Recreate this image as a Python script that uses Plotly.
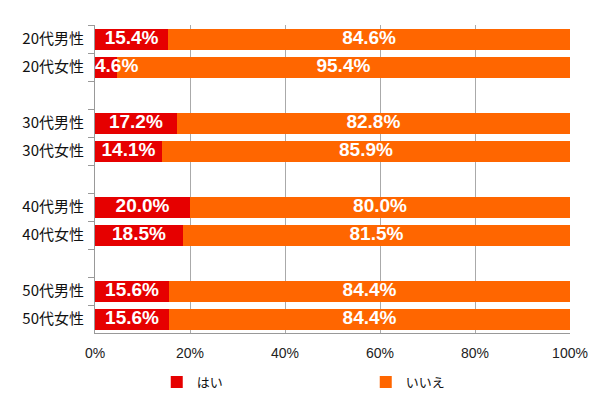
import plotly.graph_objects as go

categories = ["20代男性", "20代女性", " ", "30代男性", "30代女性", "  ",
              "40代男性", "40代女性", "   ", "50代男性", "50代女性"]
bar_categories = ["20代男性", "20代女性", "30代男性", "30代女性",
                  "40代男性", "40代女性", "50代男性", "50代女性"]
hai = [15.4, 4.6, 17.2, 14.1, 20.0, 18.5, 15.6, 15.6]
iie = [84.6, 95.4, 82.8, 85.9, 80.0, 81.5, 84.4, 84.4]
x_ticks = [0, 20, 40, 60, 80, 100]
x_tick_labels = [f"{v}%" for v in x_ticks]

RED = "#E60000"
ORANGE = "#FF6600"
LABEL_FONT = dict(family="Liberation Sans, Arial", size=19, color="white", weight="bold")

fig = go.Figure()
fig.add_trace(go.Bar(y=bar_categories, x=hai, orientation="h", name="はい",
                     marker=dict(color=RED, line=dict(width=0))))
fig.add_trace(go.Bar(y=bar_categories, x=iie, orientation="h", name="いいえ",
                     marker=dict(color=ORANGE, line=dict(width=0))))

# data labels
hai_x = [v / 2 if v >= 10 else 0 for v in hai]
hai_pos = ["middle center" if v >= 10 else "middle right" for v in hai]
fig.add_trace(go.Scatter(y=bar_categories, x=hai_x, mode="text",
                         text=[f"{v:.1f}%" for v in hai], textposition=hai_pos,
                         textfont=LABEL_FONT, showlegend=False, hoverinfo="skip",
                         cliponaxis=False))
iie_x = [h + v / 2 for h, v in zip(hai, iie)]
fig.add_trace(go.Scatter(y=bar_categories, x=iie_x, mode="text",
                         text=[f"{v:.1f}%" for v in iie], textposition="middle center",
                         textfont=LABEL_FONT, showlegend=False, hoverinfo="skip",
                         cliponaxis=False))

# page body has an 8px default margin, so the figure is sized/offset accordingly
fig.update_layout(
    barmode="stack",
    bargap=0.25,
    width=592, height=393,
    margin=dict(l=87, r=30, t=17, b=68, autoexpand=False),
    plot_bgcolor="white", paper_bgcolor="white",
    font=dict(family="Noto Sans CJK JP", size=14, color="#111"),
    legend=dict(orientation="h", x=0.13, xref="paper", y=0.048, yref="container",
                xanchor="left", yanchor="middle",
                entrywidth=164, entrywidthmode="pixels",
                font=dict(family="Noto Sans CJK JP", size=13, color="#111"),
                traceorder="normal"),
    xaxis=dict(range=[0, 100], tickmode="array", tickvals=x_ticks, ticktext=x_tick_labels,
               showgrid=True, gridcolor="#AAAAAA", gridwidth=1,
               zeroline=False, showline=True, linecolor="#999999", linewidth=1, ticks="",
               tickfont=dict(family="Liberation Sans, Arial", size=14, color="#222"),
               ticklabelstandoff=7, automargin=False),
    yaxis=dict(type="category", categoryorder="array", categoryarray=categories,
               range=[len(categories) - 0.5, -0.5],
               tickson="boundaries", ticks="outside", ticklen=6, tickcolor="#999999",
               showline=True, linecolor="#999999", linewidth=1,
               showgrid=False, zeroline=False,
               tickfont=dict(family="Noto Sans CJK JP", size=15, color="#111"),
               ticklabelstandoff=7, automargin=False),
)

fig.write_html("out.html")
